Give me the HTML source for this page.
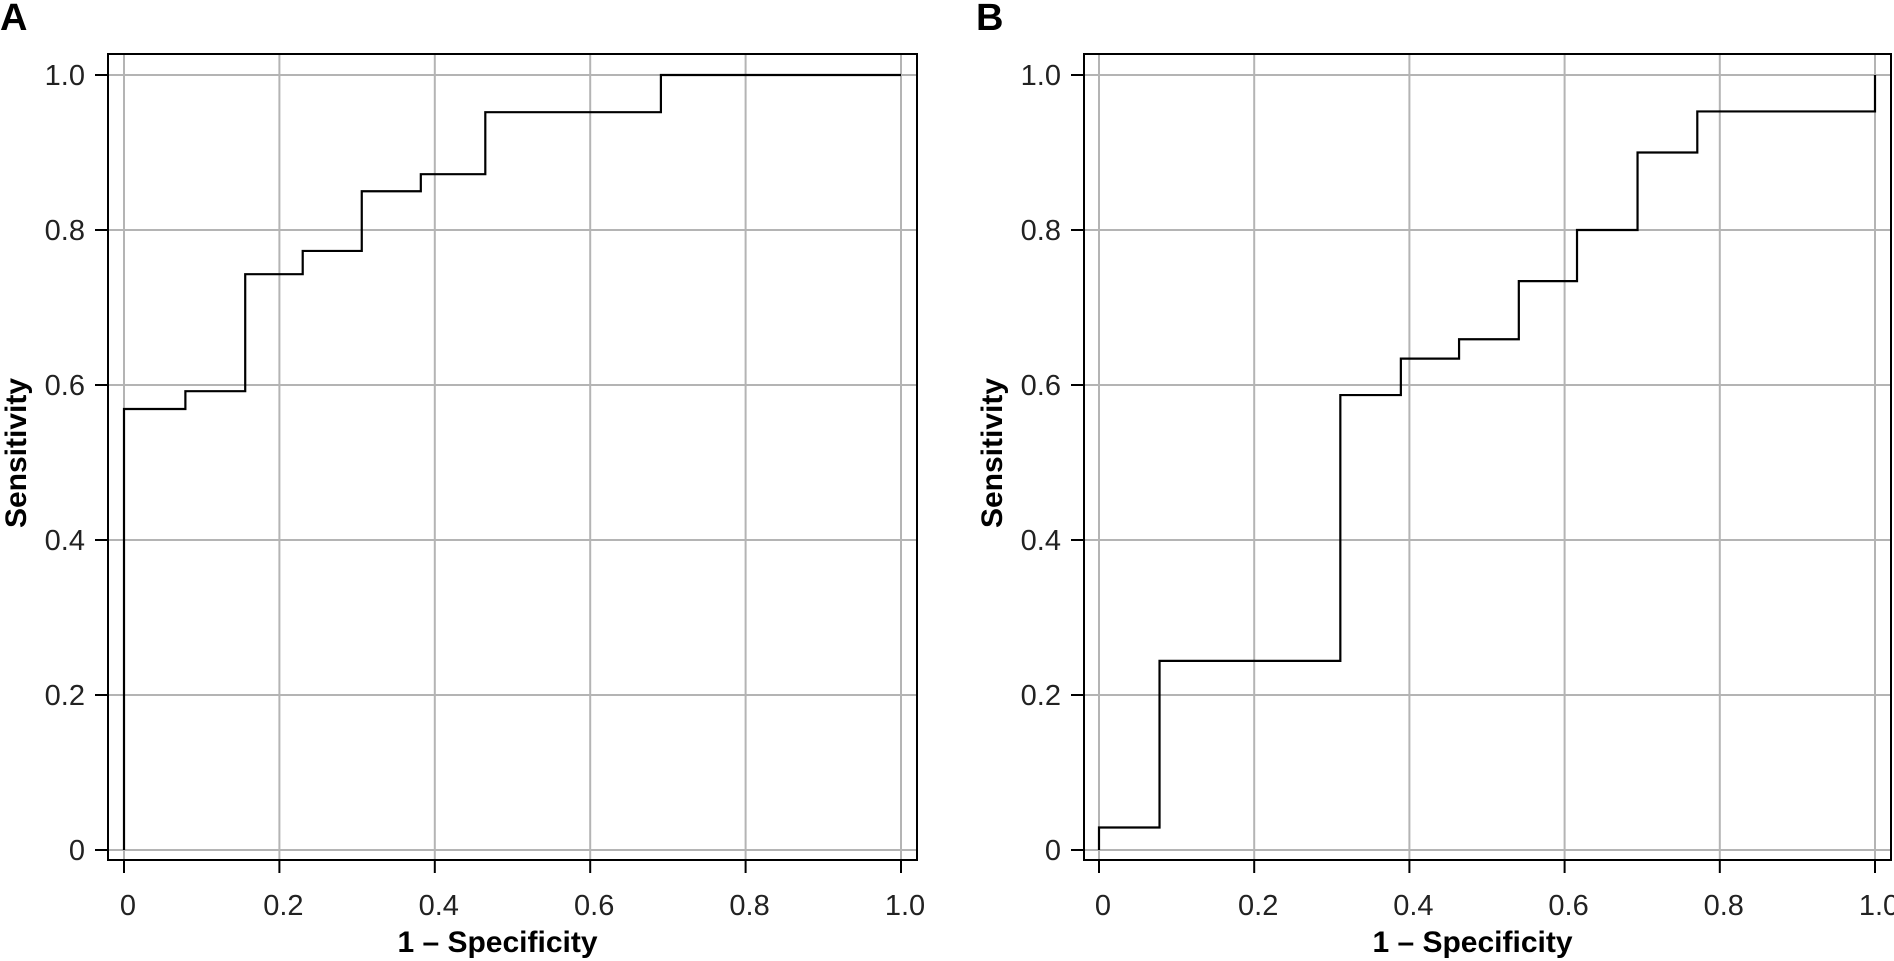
<!DOCTYPE html>
<html><head><meta charset="utf-8"><style>
html,body{margin:0;padding:0;background:#fff;}
svg{display:block;font-family:"Liberation Sans",sans-serif;}
</style></head><body>
<svg id="chart" width="1894" height="961"></svg>
<script>
const xTicks = [0, 0.2, 0.4, 0.6, 0.8, 1.0];
const xTickLabels = ["0", "0.2", "0.4", "0.6", "0.8", "1.0"];
const yTicks = [0, 0.2, 0.4, 0.6, 0.8, 1.0];
const yTickLabels = ["0", "0.2", "0.4", "0.6", "0.8", "1.0"];
const fprA = [0, 0.079, 0.156, 0.23, 0.306, 0.382, 0.465, 0.691, 1];
const tprA = [0.569, 0.592, 0.743, 0.773, 0.85, 0.872, 0.952, 1, 1];
const fprB = [0, 0.078, 0.311, 0.389, 0.464, 0.541, 0.616, 0.694, 0.771, 1];
const tprB = [0.029, 0.244, 0.587, 0.634, 0.659, 0.734, 0.8, 0.9, 0.953, 1];

const NS = "http://www.w3.org/2000/svg";
const svg = document.getElementById("chart");
function mk(tag, attrs, parent) {
  const e = document.createElementNS(NS, tag);
  for (const k in attrs) e.setAttribute(k, attrs[k]);
  (parent || svg).appendChild(e);
  return e;
}
function panel(letter, box, x0, x1, fpr, tpr, key) {
  const y0 = 850, y1 = 75;
  const sx = v => x0 + v * (x1 - x0);
  const sy = v => y0 + v * (y1 - y0);
  const g = mk("g", {});
  
  
  const lt = mk("text", {x: box.l - 108, y: 30, "font-size": 38, "font-weight": "bold", fill: "#000"}, g);
  lt.textContent = letter;
  
  
  xTicks.forEach((t, i) => {
    const gl = mk("line", {x1: sx(t), x2: sx(t), y1: 54, y2: 860, stroke: "#b4b4b4", "stroke-width": 2}, g);
    
    
    const tk = mk("line", {x1: sx(t), x2: sx(t), y1: 860, y2: 873, stroke: "#000", "stroke-width": 2}, g);
    
    
    const tl = mk("text", {x: sx(t) + 4, y: 915, "font-size": 29, "text-anchor": "middle", fill: "#222"}, g);
    tl.textContent = xTickLabels[i];
    
    
  });
  yTicks.forEach((t, i) => {
    const gl = mk("line", {x1: box.l, x2: box.r, y1: sy(t), y2: sy(t), stroke: "#b4b4b4", "stroke-width": 2}, g);
    
    
    const tk = mk("line", {x1: box.l - 13, x2: box.l, y1: sy(t), y2: sy(t), stroke: "#000", "stroke-width": 2}, g);
    
    
    const tl = mk("text", {x: box.l - 23, y: sy(t) + 10, "font-size": 29, "text-anchor": "end", fill: "#222"}, g);
    tl.textContent = yTickLabels[i];
    
    
  });
  const frame = mk("rect", {x: box.l, y: 54, width: box.r - box.l, height: 806, fill: "none", stroke: "#000", "stroke-width": 2}, g);
  
  
  let d = "M" + sx(0) + "," + sy(0);
  let prev = 0;
  for (let i = 0; i < fpr.length; i++) {
    d += " L" + sx(fpr[i]) + "," + sy(prev) + " L" + sx(fpr[i]) + "," + sy(tpr[i]);
    prev = tpr[i];
  }
  const line = mk("path", {d: d, fill: "none", stroke: "#000", "stroke-width": 2.2}, g);
  
  
  const xt = mk("text", {x: (box.l + box.r) / 2 - 15, y: 952, "font-size": 30, "font-weight": "bold", "text-anchor": "middle", fill: "#000"}, g);
  xt.textContent = "1 – Specificity";
  
  
  const cx = box.l - 82, cy = 453;
  const yt = mk("text", {x: cx, y: cy, "font-size": 30, "font-weight": "bold", "text-anchor": "middle", fill: "#000", transform: "rotate(-90 " + cx + " " + cy + ")"}, g);
  yt.textContent = "Sensitivity";
  
  
}
panel("A", {l: 108, r: 917}, 124, 901, fprA, tprA, "a");
panel("B", {l: 1084, r: 1891}, 1099, 1875, fprB, tprB, "b");
</script>
</body></html>
